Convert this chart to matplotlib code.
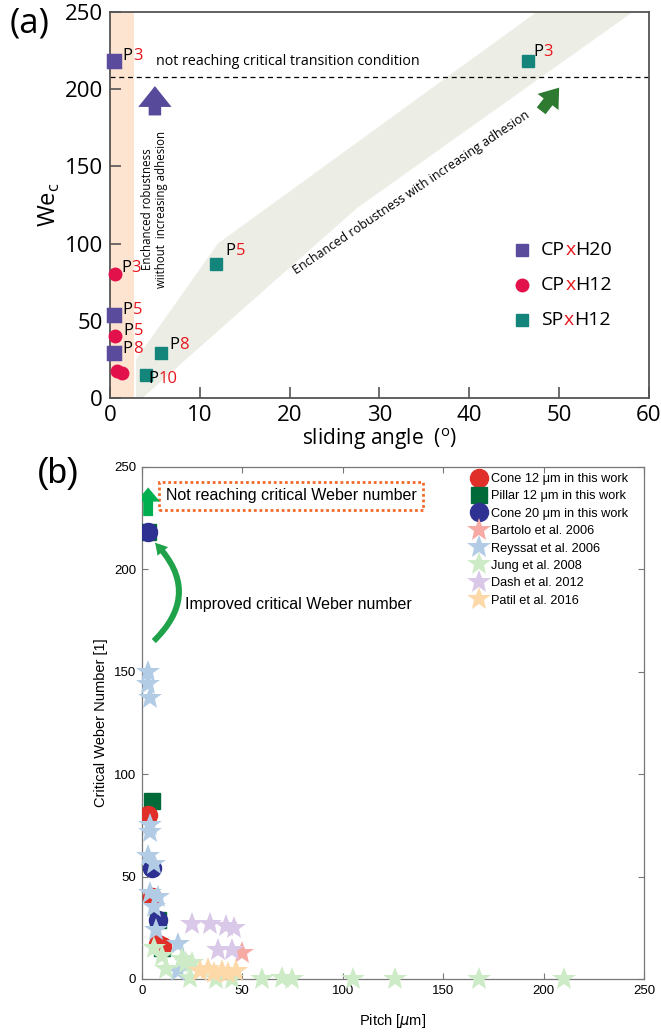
import matplotlib
matplotlib.use('Agg')
import matplotlib.pyplot as plt
from matplotlib.patches import Polygon, Rectangle, FancyArrowPatch
from matplotlib.offsetbox import TextArea, HPacker, AnnotationBbox
from matplotlib.lines import Line2D

# ---------------- panel (a) data ----------------
cp20_angle = [0.5, 0.5, 0.5]
cp20_we = [218, 54, 29]
cp20_pitch = ['3', '5', '8']

cp12_angle = [0.6, 0.6, 0.8, 1.3]
cp12_we = [80, 40, 17.5, 16]
cp12_pitch = ['3', '5', '', '']

sp12_angle = [46.5, 11.8, 5.7, 4.0]
sp12_we = [218, 87, 29, 15]
sp12_pitch = ['3', '5', '8', '10']

# label offsets (points) for the P labels
cp20_off = [(6, 4), (6, 3), (6, 3)]
cp12_off = [(4, 5), (6, 4), None, None]
sp12_off = [(4, 7), (7, 9), (6, 6), (2, -3)]

threshold_we = 208
band_x = [2.9, 2.9, 12, 47.5, 58.2, 27.5, 3.6]
band_y = [0, 25, 100, 250, 250, 123, 0]

# ---------------- panel (b) data ----------------
cone12_pitch = [3, 5, 8, 10]
cone12_we = [80, 40, 17, 16]
pillar12_pitch = [3, 5, 8, 10]
pillar12_we = [218, 87, 29, 15]
cone20_pitch = [3, 5, 8]
cone20_we = [218, 54, 29]

bartolo_pitch = [50]
bartolo_we = [12.5]
reyssat_pitch = [3, 3, 4, 4, 4, 3, 6, 4, 8, 6, 7, 18, 18]
reyssat_we = [150, 144, 137, 75, 72, 60, 56, 42, 40, 35, 24, 17, 4]
jung_pitch = [6, 10, 12, 20, 25, 22, 24, 37, 45, 60, 70, 75, 105, 126, 168, 210]
jung_we = [15, 11, 5, 10, 8, 8, 0.5, 0, 0, 0, 0.5, 0, 0, 0, 0, 0]
dash_pitch = [25, 34, 42, 46, 38, 45]
dash_we = [27, 27, 26, 25, 14, 14]
patil_pitch = [29, 33, 36, 40, 43, 47]
patil_we = [4, 5, 3, 4, 3, 4]

fig = plt.figure(figsize=(6.61, 10.34), dpi=100)

# ================= (a) =================
fa = 'Open Sans'
ax = fig.add_axes([0.1664, 0.6151, 0.8154, 0.3733])
ax.set_xlim(0, 60)
ax.set_ylim(0, 250)

ax.add_patch(Rectangle((0, 0), 2.7, 250, color='#fde4d0', lw=0, zorder=0))
ax.add_patch(Polygon(list(zip(band_x, band_y)), closed=True, color='#eceee6', lw=0, zorder=0))
ax.axhline(threshold_we, color='black', ls=(0, (4, 3)), lw=0.9, zorder=1)

ax.plot(cp20_angle, cp20_we, 's', color='#5a4b9c', ms=9, mew=2.5, mec='#5a4b9c',
        mfc='#5a4b9c', zorder=3, clip_on=False)
ax.plot(cp12_angle, cp12_we, 'o', color='#e3114b', ms=9, zorder=3, clip_on=False)
ax.plot(sp12_angle, sp12_we, 's', color='#13857a', ms=8, zorder=3)


def p_label(axis, xy, num, off, size, coords='data'):
    box = HPacker(children=[TextArea('P', textprops=dict(color='black', size=size, family=fa)),
                            TextArea(num, textprops=dict(color='#e8161c', size=size, family=fa))],
                  align='baseline', pad=0, sep=0)
    ab = AnnotationBbox(box, xy, xybox=off, xycoords=coords, boxcoords='offset points',
                        box_alignment=(0, 0.5), frameon=False, pad=0)
    axis.add_artist(ab)


for xs, ys, ps, offs in [(cp20_angle, cp20_we, cp20_pitch, cp20_off),
                         (cp12_angle, cp12_we, cp12_pitch, cp12_off),
                         (sp12_angle, sp12_we, sp12_pitch, sp12_off)]:
    for x, y, p, o in zip(xs, ys, ps, offs):
        if p:
            p_label(ax, (x, y), p, o, 12)

# legend built by hand (red x in the labels)
leg_rows = [('s', '#5a4b9c', 'CP', 'H20'), ('o', '#e3114b', 'CP', 'H12'), ('s', '#13857a', 'SP', 'H12')]
for i, (m, c, a, b) in enumerate(leg_rows):
    yy = 0.383 - i * 0.09
    ax.plot([0.764], [yy], m, color=c, ms=9, transform=ax.transAxes)
    box = HPacker(children=[TextArea(a, textprops=dict(size=14, family=fa)),
                            TextArea('x', textprops=dict(size=14, color='#e8161c', family=fa)),
                            TextArea(b, textprops=dict(size=14, family=fa))],
                  align='baseline', pad=0, sep=0)
    ax.add_artist(AnnotationBbox(box, (0.8, yy), xycoords='axes fraction',
                                 box_alignment=(0, 0.5), frameon=False, pad=0))

ax.text(5.1, 218, 'not reaching critical transition condition', fontsize=10.3, family=fa,
        va='center')
ax.text(5.0, 122, 'Enchanced robustness\nwiithout  increasing adhesion', rotation=90,
        fontsize=8.3, family=fa, ha='center', va='center', linespacing=1.1)
ax.text(33.5, 133, 'Enchanced robustness with increasing adhesion', rotation=34,
        fontsize=9, family=fa, ha='center', va='center', rotation_mode='anchor')

ax.add_patch(FancyArrowPatch((5.0, 183), (5.0, 202), shrinkA=0, shrinkB=0,
                             arrowstyle='simple,head_length=0.75,head_width=1.2,tail_width=0.45',
                             mutation_scale=20, color='#574a9b', lw=0, zorder=3))
ax.add_patch(FancyArrowPatch((48.0, 186), (50.0, 201), shrinkA=0, shrinkB=0,
                             arrowstyle='simple,head_length=0.65,head_width=0.95,tail_width=0.4',
                             mutation_scale=20, color='#2e7a30', lw=0, zorder=3))

ax.set_xticks(range(0, 61, 10))
ax.set_yticks(range(0, 251, 50))
ax.tick_params(direction='in', length=8, width=1.2, labelsize=16, color='#555555', pad=5)
for lbl in ax.get_xticklabels() + ax.get_yticklabels():
    lbl.set_family(fa)
for s in ax.spines.values():
    s.set_color('#555555')
    s.set_linewidth(1.3)
ax.set_xlabel('sliding angle  ($^\\mathregular{o}$)', fontsize=15, family=fa, labelpad=0)
ax.set_ylabel('We$_\\mathregular{c}$', fontsize=17, family=fa, labelpad=2)
fig.text(0.015, 0.994, '(a)', fontsize=25, family=fa, va='top')

# ================= (b) =================
fb = 'Liberation Sans'
bx = fig.add_axes([0.2144, 0.0532, 0.760, 0.4952])
bx.set_xlim(0, 250)
bx.set_ylim(0, 250)

bx.plot(pillar12_pitch, pillar12_we, 's', color='#006b38', ms=12, zorder=3)
bx.plot(cone12_pitch, cone12_we, 'o', color='#df2f28', ms=13, zorder=3)
bx.plot(cone20_pitch, cone20_we, 'o', color='#2e3192', ms=13, zorder=3)

star_sets = [(bartolo_pitch, bartolo_we, '#f7aaa4', 'Bartolo et al. 2006'),
             (reyssat_pitch, reyssat_we, '#b2cce6', 'Reyssat et al. 2006'),
             (jung_pitch, jung_we, '#cdebc6', 'Jung et al. 2008'),
             (dash_pitch, dash_we, '#d9c8e8', 'Dash et al. 2012'),
             (patil_pitch, patil_we, '#fdd8a8', 'Patil et al. 2016')]
for xs, ys, c, lab in star_sets:
    bx.plot(xs, ys, '*', color=c, ms=18, mew=0, zorder=4, clip_on=False)

handles = [Line2D([], [], ls='none', marker='o', color='#df2f28', ms=13),
           Line2D([], [], ls='none', marker='s', color='#006b38', ms=12),
           Line2D([], [], ls='none', marker='o', color='#2e3192', ms=13)]
labels = ['Cone 12 \u03bcm in this work', 'Pillar 12 \u03bcm in this work',
          'Cone 20 \u03bcm in this work']
for xs, ys, c, lab in star_sets:
    handles.append(Line2D([], [], ls='none', marker='*', color=c, ms=18, mew=0))
    labels.append(lab)
leg = bx.legend(handles, labels, loc='upper left', bbox_to_anchor=(0.655, 0.988), frameon=False,
                labelspacing=0.42, handletextpad=0.3, handlelength=1.3,
                borderpad=0, borderaxespad=0, prop={'family': fb, 'size': 9.2})

bx.text(12, 236, 'Not reaching critical Weber number', fontsize=11.5, family=fb,
        va='center', ha='left',
        bbox=dict(boxstyle='square,pad=0.4', fc='none', ec='#f26b2a', lw=2, ls=(0, (1, 1))))
bx.add_patch(FancyArrowPatch((3.2, 226), (3.2, 240), shrinkA=0, shrinkB=0,
                             arrowstyle='simple,head_length=0.6,head_width=1.0,tail_width=0.42',
                             mutation_scale=17, color='#00b050', lw=0, zorder=5))
bx.add_patch(FancyArrowPatch((6.0, 165), (6.6, 213), connectionstyle='arc3,rad=0.5',
                             shrinkA=0, shrinkB=0,
                             arrowstyle='simple,head_length=0.6,head_width=0.7,tail_width=0.3',
                             mutation_scale=14, color='#1fa24a', lw=0, zorder=5))
bx.text(21.5, 183, 'Improved critical Weber number', fontsize=11.5, family=fb, va='center')

bx.set_xticks(range(0, 251, 50))
bx.set_yticks(range(0, 251, 50))
bx.tick_params(direction='in', length=4, width=0.8, labelsize=9.5, color='#777777',
               top=True, right=True, pad=4)
for lbl in bx.get_xticklabels() + bx.get_yticklabels():
    lbl.set_family(fb)
for s in bx.spines.values():
    s.set_color('#777777')
    s.set_linewidth(0.9)
bx.set_xlabel('Pitch [$\\mu$m]', fontsize=10.5, family=fb, labelpad=11)
bx.set_ylabel('Critical Weber Number [1]', fontsize=10.5, family=fb, labelpad=4)
fig.text(0.056, 0.558, '(b)', fontsize=25, family=fb, va='top')

fig.savefig('out.png', dpi=100)
